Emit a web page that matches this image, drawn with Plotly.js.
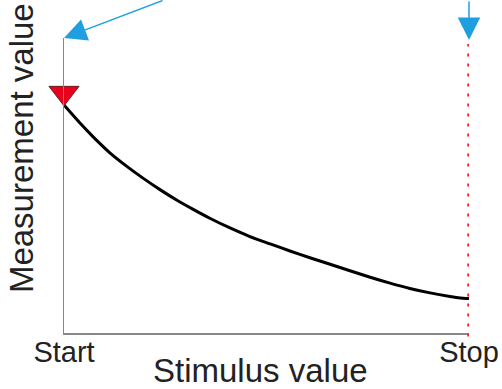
<!DOCTYPE html>
<html>
<head>
<meta charset="utf-8">
<script src="https://cdn.plot.ly/plotly-3.0.1.min.js"></script>
<style>html,body{margin:0;padding:0;background:#fff;}#chart{width:502px;height:389px;}</style>
</head>
<body>
<div id="chart"></div>
<script>
const stimulus = [0, 0.040, 0.072, 0.114, 0.156, 0.195, 0.237, 0.279, 0.319, 0.360, 0.410, 0.459, 0.509, 0.558, 0.607, 0.657, 0.706, 0.756, 0.805, 0.854, 0.904, 0.953, 0.978, 1.0];
const measurement = [0.773, 0.711, 0.665, 0.610, 0.564, 0.525, 0.486, 0.450, 0.419, 0.389, 0.356, 0.327, 0.302, 0.278, 0.255, 0.233, 0.211, 0.189, 0.169, 0.151, 0.136, 0.124, 0.119, 0.117];
const startMarkerX = [0];
const startMarkerY = [0.814];
const tickValues = [0, 1];
const tickLabels = ['Start', 'Stop'];
const stopValue = 1;
const xTitle = 'Stimulus value';
const yTitle = 'Measurement value';

const font = 'Liberation Sans, Arial, sans-serif';
const blue = '#1f9fe0';

const traces = [
  {x: stimulus, y: measurement, type: 'scatter', mode: 'lines',
   line: {color: '#000', width: 3, shape: 'spline', smoothing: 0.6}, hoverinfo: 'skip'},
  {x: startMarkerX, y: startMarkerY, type: 'scatter', mode: 'markers', cliponaxis: false,
   marker: {symbol: 'triangle-down', size: 26, color: '#e8001c', line: {color: '#6a1a1a', width: 1}}}
];

const layout = {
  width: 502, height: 389,
  margin: {l: 64, r: 33, t: 38, b: 56},
  paper_bgcolor: '#fff', plot_bgcolor: '#fff',
  showlegend: false,
  font: {family: font, color: '#222'},
  xaxis: {range: [0, 1], showgrid: false, zeroline: false, showline: true, linecolor: '#888', linewidth: 1.5,
          tickvals: tickValues, ticktext: tickLabels, ticks: '', ticklabelstandoff: -7,
          tickfont: {size: 29, family: font, color: '#222'}},
  yaxis: {range: [0, 1], showgrid: false, zeroline: false, showline: true, linecolor: '#888', linewidth: 1.5,
          showticklabels: false, ticks: ''},
  shapes: [
    {type: 'line', xref: 'x', yref: 'paper', x0: stopValue, x1: stopValue, y0: -0.012, y1: 0.98,
     line: {color: '#ff1a2e', width: 3.5, dash: '3px,7px'}}
  ],
  annotations: [
    {xref: 'paper', yref: 'paper', x: 0.484, y: -0.127, xanchor: 'center', yanchor: 'middle',
     text: xTitle, showarrow: false,
     font: {size: 33, family: font, color: '#222'}},
    {xref: 'paper', yref: 'paper', x: -0.106, y: 0.627, xanchor: 'center', yanchor: 'middle',
     text: yTitle, textangle: -90, showarrow: false,
     font: {size: 33, family: font, color: '#222'}},
    {xref: 'x', yref: 'paper', x: 0, y: 1, text: '', showarrow: true, ax: 100, ay: -40,
     arrowcolor: blue, arrowwidth: 1.5, arrowhead: 2, arrowsize: 3, standoff: 0},
    {xref: 'x', yref: 'paper', x: stopValue, y: 0.993, text: '', showarrow: true, ax: 0, ay: -45,
     arrowcolor: blue, arrowwidth: 1.5, arrowhead: 2, arrowsize: 3, standoff: 0}
  ]
};

Plotly.newPlot('chart', traces, layout, {displayModeBar: false, staticPlot: true});
</script>
</body>
</html>
